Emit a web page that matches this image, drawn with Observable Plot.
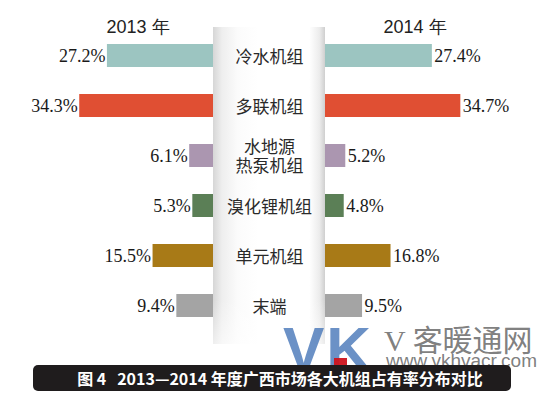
<!DOCTYPE html>
<html>
<head>
<meta charset="utf-8">
<script src="https://cdn.jsdelivr.net/npm/d3@7"></script>
<script src="https://cdn.jsdelivr.net/npm/@observablehq/plot@0.6"></script>
<style>
  html, body { margin: 0; padding: 0; background: #fff; }
  #wrap { position: relative; width: 550px; height: 393px; overflow: hidden; background: #fff; }
  .abs { position: absolute; }
  .year { font-family: "Liberation Sans", Arial, sans-serif; font-size: 18px; color: #222; width: 120px; text-align: center; top: 15px; }
  #panel { left: 213px; top: 27px; width: 112px; height: 317px;
    background: linear-gradient(to right, #d6d6d6 0%, #eeeeee 8%, #fbfbfb 22%, #ffffff 40%, #ffffff 86%, #ececec 95%, #cfcfcf 100%); }
  #panelFade { left: 213px; top: 300px; width: 112px; height: 44px;
    background: linear-gradient(to bottom, rgba(255,255,255,0), rgba(255,255,255,0.6)); }
  #caption { left: 33px; top: 365px; width: 478px; height: 26px; border-radius: 5px;
    background: #1f1c1d; color: #fff; font-family: "Noto Sans CJK SC", sans-serif; font-weight: 700;
    font-size: 16px; line-height: 26px; text-align: center; padding-left: 16px; box-sizing: border-box; white-space: pre; }
</style>
</head>
<body>
<div id="wrap">
  <div id="panel" class="abs"></div>
  <div id="panelFade" class="abs"></div>
  <div id="left" class="abs" style="left:0;top:0"></div>
  <div id="center" class="abs" style="left:213px;top:0"></div>
  <div id="right" class="abs" style="left:325px;top:0"></div>
  <div id="y2013" class="abs year" style="left:78px"></div>
  <div id="y2014" class="abs year" style="left:355px"></div>
  <div id="wmVK" class="abs" style="left:283px;top:318px;font-family:'Liberation Sans',Arial,sans-serif;font-weight:700;font-size:62px;letter-spacing:2px;color:rgba(70,118,184,0.8);line-height:1;"></div>
  <div class="abs" style="left:334px;top:358px;width:13px;height:9px;background:rgba(205,20,30,0.95);"></div>
  <div id="wmName" class="abs" style="left:384px;top:326px;font-size:30px;color:rgba(112,112,112,0.9);line-height:0.85;white-space:pre;"><span id="wmV" style="font-family:'Liberation Serif',serif;"></span><span id="wmCN" style="font-family:'Noto Sans CJK SC',sans-serif;"></span></div>
  <div id="wmUrl" class="abs" style="left:386px;top:352px;font-family:'Liberation Sans',Arial,sans-serif;font-size:19px;color:rgba(112,112,112,0.9);line-height:0.9;"></div>
  <div id="caption" class="abs"></div>
</div>
<script>
// ---- data ----
const categories = ["冷水机组", "多联机组", "水地源热泵机组", "溴化锂机组", "单元机组", "末端"];
const categoryLabels = ["冷水机组", "多联机组", "水地源\n热泵机组", "溴化锂机组", "单元机组", "末端"];
const values2013 = [27.2, 34.3, 6.1, 5.3, 15.5, 9.4];
const values2014 = [27.4, 34.7, 5.2, 4.8, 16.8, 9.5];
const barColors = ["#9cc5c1", "#e04f33", "#ab96b0", "#5b7f56", "#a87a17", "#a4a4a4"];
const yearLabels = ["2013 年", "2014 年"];
const captionText = "图 4   2013—2014 年度广西市场各大机组占有率分布对比";
const watermark = ["VK", "V ", "客暖通网", "www.vkhvacr.com"];

const rows2013 = categories.map((c, i) => ({cat: c, v: values2013[i], color: barColors[i]}));
const rows2014 = categories.map((c, i) => ({cat: c, v: values2014[i], color: barColors[i]}));
const rowsLabel = categories.map((c, i) => ({cat: c, label: categoryLabels[i]}));

const H = 345;
const yScale = {domain: categories, paddingInner: 0.54, paddingOuter: 0.27, axis: null};
const common = {height: H, marginTop: 29.8, marginBottom: H - 332.2, style: {background: "transparent", overflow: "visible"}};
const numFont = "'Liberation Serif', 'Times New Roman', serif";

const left = Plot.plot({
  ...common, width: 213, marginLeft: 18, marginRight: 0,
  x: {domain: [0, 50], reverse: true, axis: null},
  y: yScale,
  color: {type: "identity"},
  marks: [
    Plot.barX(rows2013, {x: "v", y: "cat", fill: "color"}),
    Plot.text(rows2013, {x: "v", y: "cat", text: d => d.v.toFixed(1) + "%", textAnchor: "end", dx: -2,
      fontFamily: numFont, fontSize: 18, fill: "#1a1a1a"})
  ]
});
document.getElementById("left").appendChild(left);

const right = Plot.plot({
  ...common, width: 225, marginLeft: 0, marginRight: 30,
  x: {domain: [0, 50], axis: null},
  y: yScale,
  color: {type: "identity"},
  marks: [
    Plot.barX(rows2014, {x: "v", y: "cat", fill: "color"}),
    Plot.text(rows2014, {x: "v", y: "cat", text: d => d.v.toFixed(1) + "%", textAnchor: "start", dx: 2,
      fontFamily: numFont, fontSize: 18, fill: "#1a1a1a"})
  ]
});
document.getElementById("right").appendChild(right);

const center = Plot.plot({
  ...common, width: 112, marginLeft: 0, marginRight: 0,
  y: yScale,
  marks: [
    Plot.text(rowsLabel, {y: "cat", text: "label", frameAnchor: "middle", lineHeight: 1.12,
      fontFamily: "'Noto Sans CJK SC', sans-serif", fontSize: 17, fill: "#2a2a2a"})
  ]
});
document.getElementById("center").appendChild(center);

document.getElementById("y2013").textContent = yearLabels[0];
document.getElementById("y2014").textContent = yearLabels[1];
document.getElementById("caption").textContent = captionText;
document.getElementById("wmVK").textContent = watermark[0];
document.getElementById("wmV").textContent = watermark[1];
document.getElementById("wmCN").textContent = watermark[2];
document.getElementById("wmUrl").textContent = watermark[3];
</script>
</body>
</html>
